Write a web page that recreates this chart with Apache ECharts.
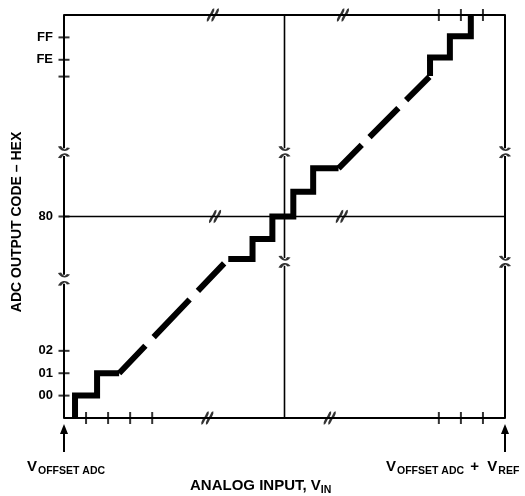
<!DOCTYPE html>
<html lang="en">
<head>
<meta charset="UTF-8" />
<title>ADC transfer characteristic</title>
<script src="https://cdn.jsdelivr.net/npm/echarts@6/dist/echarts.min.js"></script>
<style>
  html, body { margin: 0; padding: 0; background: #fff; }
  #main { width: 525px; height: 496px; }
</style>
</head>
<body>
<div id="main"></div>
<script>
// units are LSB steps, the middle of each axis is broken (see break marks)
var xMin = 0, xMax = 20;
var yMin = -1, yMax = 17;

var yTickValues = [0, 1, 2, 8, 15, 16];
var yTickLabels = ['00', '01', '02', '80', 'FE', 'FF'];
var yTickMarks = [0, 1, 2, 8, 14.25, 15, 16];
var xTickMarks = [1, 2, 3, 4, 17, 18, 19];
var xTopTickMarks = [17, 18, 19];

// transfer curve: solid steps + dashed ramps
var stepLow = [[0.5, -1], [0.5, 0], [1.5, 0], [1.5, 1], [2.5, 1]];
var rampLow = [[2.5, 1], [7.45, 6.1]];
var stepMid = [[7.45, 6.1], [8.55, 6.1], [8.55, 7], [9.45, 7], [9.45, 8], [10.4, 8],
               [10.4, 9.1], [11.3, 9.1], [11.3, 10.15], [12.45, 10.15]];
var rampHigh = [[12.45, 10.15], [16.6, 14.27]];
var stepHigh = [[16.6, 14.27], [16.6, 15.1], [17.5, 15.1], [17.5, 16.05], [18.45, 16.05], [18.45, 17]];

// frame / grid lines with gaps ('-' = gap)
var leftLine = [[0, -1], [0, 5.0], [0, '-'], [0, 5.4], [0, 10.7], [0, '-'], [0, 11.05], [0, 17]];
var midLine = [[10, -1], [10, 5.8], [10, '-'], [10, 6.15], [10, 10.7], [10, '-'], [10, 11.05], [10, 17]];
var rightLine = [[20, -1], [20, 5.8], [20, '-'], [20, 6.15], [20, 10.7], [20, '-'], [20, 11.05], [20, 17]];
var line80 = [[0, 8], [20, 8]];

// break marks
var breakH = [[6.5, -1], [12.05, -1], [6.75, 17], [12.65, 17], [6.85, 8], [12.6, 8]];
var capBelowGap = [[0, 5.0], [0, 10.7], [10, 5.8], [10, 10.7], [20, 5.8], [20, 10.7]];
var capAboveGap = [[0, 5.4], [0, 11.05], [10, 6.15], [10, 11.05], [20, 6.15], [20, 11.05]];

var FONT = '"Liberation Sans", Arial, Helvetica, sans-serif';

function thinLine(data, w) {
    return {
        type: 'line', data: data, symbol: 'none', clip: false, silent: true,
        connectNulls: false, z: 2,
        lineStyle: { color: '#000', width: w }
    };
}
function curve(data, dash) {
    return {
        type: 'line', data: data, symbol: 'none', clip: false, silent: true, z: 5,
        lineStyle: { color: '#000', width: 6, type: dash || 'solid', join: 'miter', cap: 'butt' }
    };
}
function marks(data, symbol, size, stroke) {
    return {
        type: 'scatter', data: data, symbol: symbol, symbolSize: size, silent: true, z: 4, clip: false,
        itemStyle: stroke ? { color: 'transparent', borderColor: '#000', borderWidth: stroke } : { color: '#000' }
    };
}

var myChart = echarts.init(document.getElementById('main'), null, { renderer: 'canvas' });

var option = {
    animation: false,
    backgroundColor: '#fff',
    grid: { left: 64, right: 20, top: 15, bottom: 78 },
    xAxis: [{
        type: 'value', min: xMin, max: xMax, position: 'bottom',
        axisLine: { show: true, onZero: false, lineStyle: { color: '#000', width: 2 } },
        axisTick: { show: false }, axisLabel: { show: false }, splitLine: { show: false }
    }, {
        type: 'value', min: xMin, max: xMax, position: 'top',
        axisLine: { show: true, onZero: false, lineStyle: { color: '#000', width: 2 } },
        axisTick: { show: false }, axisLabel: { show: false }, splitLine: { show: false }
    }],
    yAxis: {
        type: 'value', min: yMin, max: yMax,
        axisLine: { show: false }, axisTick: { show: false }, splitLine: { show: false },
        axisLabel: {
            customValues: yTickValues,
            margin: 11,
            color: '#000', fontSize: 13, fontWeight: 'bold', fontFamily: FONT,
            formatter: function (v) { return yTickLabels[yTickValues.indexOf(v)]; }
        }
    },
    series: [
        thinLine(leftLine, 2),
        thinLine(midLine, 1.6),
        thinLine(rightLine, 2),
        thinLine(line80, 1.6),
        marks(xTickMarks.map(function (x) { return [x, -1]; }), 'rect', [2, 12]),
        marks(xTopTickMarks.map(function (x) { return [x, 17]; }), 'rect', [2, 12]),
        marks(yTickMarks.map(function (y) { return [0, y]; }), 'rect', [11, 2]),
        marks(breakH, 'path://M0,10 C2,10 2,6 4,5 C6,4 6,0 8,0 M5,10 C7,10 7,6 9,5 C11,4 11,0 13,0', [12, 11], 2.4),
        marks(capBelowGap, 'path://M0,4 Q5,-1 10,3', [9, 4], 2.2),
        marks(capAboveGap, 'path://M0,0 Q5,5 10,1', [9, 4], 2.2),
        curve(stepLow),
        curve(rampLow, [38, 12, 52, 12]),
        curve(stepMid),
        curve(rampHigh, [33, 11, 41, 11]),
        curve(stepHigh)
    ]
};

myChart.setOption(option);

// annotations below the axis (arrows + labels), placed from axis coordinates
var ctx = document.createElement('canvas').getContext('2d');
function textRun(parts, x, baseline) {
    var els = [];
    parts.forEach(function (p) {
        var size = p.sub ? 10.5 : 15;
        ctx.font = 'bold ' + size + 'px ' + FONT;
        els.push({
            type: 'text', x: x, y: baseline + (p.sub ? 3 : 0),
            style: { text: p.t, font: 'bold ' + size + 'px ' + FONT, fill: '#000', textVerticalAlign: 'bottom' }
        });
        x += ctx.measureText(p.t).width + (p.gap || 0);
    });
    return els;
}
function arrow(px, py) {
    return [
        { type: 'line', shape: { x1: px, y1: py + 14, x2: px, y2: py + 34 }, style: { stroke: '#000', lineWidth: 2 } },
        { type: 'polygon', shape: { points: [[px, py + 6], [px - 4, py + 16], [px + 4, py + 16]] }, style: { fill: '#000' } }
    ];
}

var pL = myChart.convertToPixel({ gridIndex: 0 }, [xMin, yMin]);
var pR = myChart.convertToPixel({ gridIndex: 0 }, [xMax, yMin]);

var gfx = [].concat(
    arrow(pL[0], pL[1]),
    arrow(pR[0], pR[1]),
    textRun([{ t: 'V', gap: 1 }, { t: 'OFFSET ADC', sub: true }], 27, 474),
    textRun([{ t: 'V', gap: 1 }, { t: 'OFFSET ADC', sub: true, gap: 2 }, { t: ' +  V', gap: 1 }, { t: 'REF', sub: true }], 386, 474),
    textRun([{ t: 'ANALOG INPUT, V' }, { t: 'IN', sub: true }], 190, 493),
    [{
        type: 'text', x: 17, y: 222, rotation: Math.PI / 2,
        style: { text: 'ADC OUTPUT CODE \u2013 HEX', font: 'bold 14px ' + FONT, fill: '#000',
                 textAlign: 'center', textVerticalAlign: 'middle' }
    }]
);

myChart.setOption({ graphic: gfx });
</script>
</body>
</html>
